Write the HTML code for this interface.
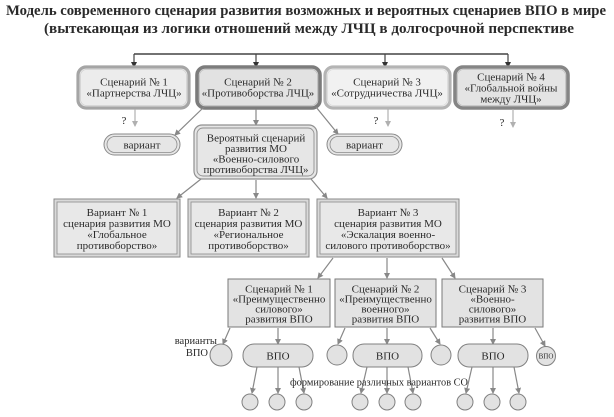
<!DOCTYPE html>
<html><head><meta charset="utf-8">
<style>
html,body{margin:0;padding:0;background:#fff;}
svg{display:block;}
text{font-family:"Liberation Serif","DejaVu Serif",serif;fill:#2a2a2a;}
</style></head>
<body>
<svg width="614" height="417" viewBox="0 0 614 417" xmlns="http://www.w3.org/2000/svg">
<defs>
<marker id="ad" markerWidth="6" markerHeight="6" refX="5" refY="3" orient="auto" markerUnits="userSpaceOnUse"><path d="M0,0 L6,3 L0,6 z" fill="#333"/></marker>
<marker id="ag" markerWidth="6" markerHeight="6" refX="5" refY="3" orient="auto" markerUnits="userSpaceOnUse"><path d="M0,0 L6,3 L0,6 z" fill="#888"/></marker>
<marker id="al" markerWidth="6" markerHeight="6" refX="5" refY="3" orient="auto" markerUnits="userSpaceOnUse"><path d="M0,0 L6,3 L0,6 z" fill="#b0b0b0"/></marker>
</defs>

<!-- Title -->
<text x="306" y="15" text-anchor="middle" font-size="15" font-weight="bold" textLength="600" lengthAdjust="spacingAndGlyphs">Модель современного сценария развития возможных и вероятных сценариев ВПО в мире</text>
<text x="309" y="33" text-anchor="middle" font-size="15" font-weight="bold" textLength="530" lengthAdjust="spacingAndGlyphs">(вытекающая из логики отношений между ЛЧЦ в долгосрочной перспективе</text>

<!-- top connector -->
<line x1="134" y1="54" x2="508" y2="54" stroke="#444" stroke-width="1.4"/>
<g stroke="#444" stroke-width="1.2" marker-end="url(#ad)">
<line x1="134" y1="54" x2="134" y2="67"/>
<line x1="256" y1="54" x2="256" y2="67"/>
<line x1="385" y1="54" x2="385" y2="67"/>
<line x1="508" y1="54" x2="508" y2="67"/>
</g>

<!-- Row 1 -->
<rect x="78" y="67" width="111" height="41" rx="8" fill="#ececec" stroke="#a5a5a5" stroke-width="3.2"/>
<rect x="80.5" y="69.5" width="106" height="36" rx="6" fill="none" stroke="#d0d0d0" stroke-width="0.8"/>
<rect x="197" y="67" width="123" height="41" rx="8" fill="#e2e2e2" stroke="#7c7c7c" stroke-width="3.6"/>
<rect x="199.5" y="69.5" width="118" height="36" rx="6" fill="none" stroke="#bdbdbd" stroke-width="0.8"/>
<rect x="325" y="67" width="125" height="41" rx="8" fill="#f1f1f1" stroke="#b4b4b4" stroke-width="3.2"/>
<rect x="327.5" y="69.5" width="120" height="36" rx="6" fill="none" stroke="#dadada" stroke-width="0.8"/>
<rect x="455" y="67" width="113" height="41" rx="8" fill="#e4e4e4" stroke="#858585" stroke-width="3.6"/>
<rect x="457.5" y="69.5" width="108" height="36" rx="6" fill="none" stroke="#c0c0c0" stroke-width="0.8"/>

<g font-size="11" text-anchor="middle">
<text x="134" y="85.5">Сценарий № 1</text>
<text x="134" y="96.5">«Партнерства ЛЧЦ»</text>
<text x="258" y="85.5">Сценарий № 2</text>
<text x="258" y="96.5">«Противоборства ЛЧЦ»</text>
<text x="387" y="85.5">Сценарий № 3</text>
<text x="387" y="96.5">«Сотрудничества ЛЧЦ»</text>
<text x="511" y="80.5">Сценарий № 4</text>
<text x="511" y="91.5">«Глобальной войны</text>
<text x="511" y="102.5">между ЛЧЦ»</text>
</g>

<!-- question arrows -->
<g stroke="#b0b0b0" stroke-width="1.2" marker-end="url(#al)">
<line x1="135" y1="109" x2="135" y2="126"/>
<line x1="388" y1="109" x2="388" y2="126"/>
<line x1="513" y1="109" x2="513" y2="127"/>
</g>
<g font-size="11" text-anchor="middle">
<text x="124" y="124">?</text>
<text x="376" y="124">?</text>
<text x="502" y="126">?</text>
</g>

<!-- from box 2 -->
<g stroke="#888" stroke-width="1.2" marker-end="url(#ag)">
<line x1="256" y1="109" x2="256" y2="125"/>
<line x1="204" y1="107" x2="175" y2="135"/>
<line x1="316" y1="107" x2="338" y2="134"/>
</g>

<!-- variant pills -->
<rect x="104" y="134" width="76" height="21" rx="10.5" fill="#e6e6e6" stroke="#8a8a8a" stroke-width="1"/>
<rect x="107" y="136.5" width="70" height="16" rx="8" fill="#e6e6e6" stroke="#8a8a8a" stroke-width="0.8"/>
<rect x="327" y="134" width="75" height="21" rx="10.5" fill="#e6e6e6" stroke="#8a8a8a" stroke-width="1"/>
<rect x="330" y="136.5" width="69" height="16" rx="8" fill="#e6e6e6" stroke="#8a8a8a" stroke-width="0.8"/>
<g font-size="11" text-anchor="middle">
<text x="142" y="148.5">вариант</text>
<text x="364.5" y="148.5">вариант</text>
</g>

<!-- Big box -->
<rect x="194" y="125" width="123" height="54" rx="8" fill="#e6e6e6" stroke="#909090" stroke-width="1.2"/>
<rect x="197" y="128" width="117" height="48" rx="6" fill="#e6e6e6" stroke="#909090" stroke-width="0.9"/>
<g font-size="11" text-anchor="middle">
<text x="256" y="141.5">Вероятный сценарий</text>
<text x="256" y="152">развития МО</text>
<text x="256" y="162.5">«Военно-силового</text>
<text x="256" y="173">противоборства ЛЧЦ»</text>
</g>

<g stroke="#888" stroke-width="1.2" marker-end="url(#ag)">
<line x1="201" y1="179" x2="177" y2="198"/>
<line x1="256" y1="180" x2="256" y2="198"/>
<line x1="311" y1="179" x2="327" y2="198"/>
</g>

<!-- Row 3 -->
<g fill="#d9d9d9" stroke="#8a8a8a" stroke-width="1">
<rect x="54" y="199" width="126" height="58"/>
<rect x="188" y="199" width="121" height="58"/>
<rect x="317" y="199" width="142" height="58"/>
</g>
<g fill="#e8e8e8" stroke="#8a8a8a" stroke-width="0.8">
<rect x="57" y="202" width="120" height="52"/>
<rect x="191" y="202" width="115" height="52"/>
<rect x="320" y="202" width="136" height="52"/>
</g>
<g font-size="11" text-anchor="middle">
<text x="117" y="216">Вариант № 1</text>
<text x="117" y="227">сценария развития МО</text>
<text x="117" y="238">«Глобальное</text>
<text x="117" y="249">противоборство»</text>
<text x="248.5" y="216">Вариант № 2</text>
<text x="248.5" y="227">сценария развития МО</text>
<text x="248.5" y="238">«Региональное</text>
<text x="248.5" y="249">противоборство»</text>
<text x="388" y="216">Вариант № 3</text>
<text x="388" y="227">сценария развития МО</text>
<text x="388" y="238">«Эскалация военно-</text>
<text x="388" y="249">силового противоборство»</text>
</g>

<g stroke="#888" stroke-width="1.2" marker-end="url(#ag)">
<line x1="333" y1="258" x2="318" y2="278"/>
<line x1="387" y1="258" x2="387" y2="278"/>
<line x1="442" y1="258" x2="455" y2="278"/>
</g>

<!-- Row 4 -->
<g fill="#e3e3e3" stroke="#7a7a7a" stroke-width="1">
<rect x="228" y="279" width="102" height="48"/>
<rect x="335" y="279" width="101" height="48"/>
<rect x="442" y="279" width="101" height="48"/>
</g>
<g font-size="11" text-anchor="middle">
<text x="279" y="292.5">Сценарий  № 1</text>
<text x="279" y="302.5">«Преимущественно</text>
<text x="279" y="312.5">силового»</text>
<text x="279" y="322.5">развития ВПО</text>
<text x="385.5" y="292.5">Сценарий  № 2</text>
<text x="385.5" y="302.5">«Преимущественно</text>
<text x="385.5" y="312.5">военного»</text>
<text x="385.5" y="322.5">развития ВПО</text>
<text x="492.5" y="292.5">Сценарий № 3</text>
<text x="492.5" y="302.5">«Военно-</text>
<text x="492.5" y="312.5">силового»</text>
<text x="492.5" y="322.5">развития ВПО</text>
</g>

<g stroke="#888" stroke-width="1.2" marker-end="url(#ag)">
<line x1="230" y1="328" x2="223" y2="344"/>
<line x1="278" y1="328" x2="278" y2="344"/>
<line x1="345" y1="328" x2="338" y2="344"/>
<line x1="387" y1="328" x2="387" y2="344"/>
<line x1="430" y1="328" x2="440" y2="344"/>
<line x1="493" y1="328" x2="493" y2="344"/>
<line x1="535" y1="328" x2="545" y2="346"/>
</g>

<!-- labels -->
<g font-size="10.5" text-anchor="end">
<text x="217" y="344">варианты</text>
<text x="208" y="356">ВПО</text>
</g>

<!-- circles and pills -->
<g fill="#e2e2e2" stroke="#808080" stroke-width="1">
<circle cx="221" cy="355" r="11"/>
<circle cx="337" cy="355" r="10"/>
<circle cx="441" cy="355" r="10"/>
<circle cx="546" cy="356" r="9.5"/>
<rect x="243" y="344" width="70" height="23" rx="11"/>
<rect x="353" y="344" width="69" height="23" rx="11"/>
<rect x="458" y="344" width="70" height="23" rx="11"/>
</g>
<g font-size="11" text-anchor="middle">
<text x="278" y="359.5">ВПО</text>
<text x="387.5" y="359.5">ВПО</text>
<text x="493" y="359.5">ВПО</text>
</g>
<text x="546" y="358.5" font-size="7" text-anchor="middle">ВПО</text>

<!-- down arrows from pills -->
<g stroke="#888" stroke-width="1.2" marker-end="url(#ag)">
<line x1="257" y1="367" x2="252" y2="393"/>
<line x1="278" y1="367" x2="278" y2="393"/>
<line x1="299" y1="367" x2="304" y2="393"/>
<line x1="367" y1="367" x2="361" y2="393"/>
<line x1="387" y1="367" x2="387" y2="393"/>
<line x1="408" y1="367" x2="413" y2="393"/>
<line x1="472" y1="367" x2="466" y2="393"/>
<line x1="493" y1="367" x2="493" y2="393"/>
<line x1="514" y1="367" x2="519" y2="393"/>
</g>

<text x="290" y="385.5" font-size="10.5" textLength="178" lengthAdjust="spacingAndGlyphs">формирование различных вариантов СО</text>

<g fill="#e2e2e2" stroke="#808080" stroke-width="1">
<circle cx="250" cy="402" r="8"/>
<circle cx="277" cy="402" r="8"/>
<circle cx="304" cy="402" r="8"/>
<circle cx="360" cy="402" r="8"/>
<circle cx="387" cy="402" r="8"/>
<circle cx="413" cy="402" r="8"/>
<circle cx="465" cy="402" r="8"/>
<circle cx="492" cy="402" r="8"/>
<circle cx="518" cy="402" r="8"/>
</g>
</svg>
</body></html>
